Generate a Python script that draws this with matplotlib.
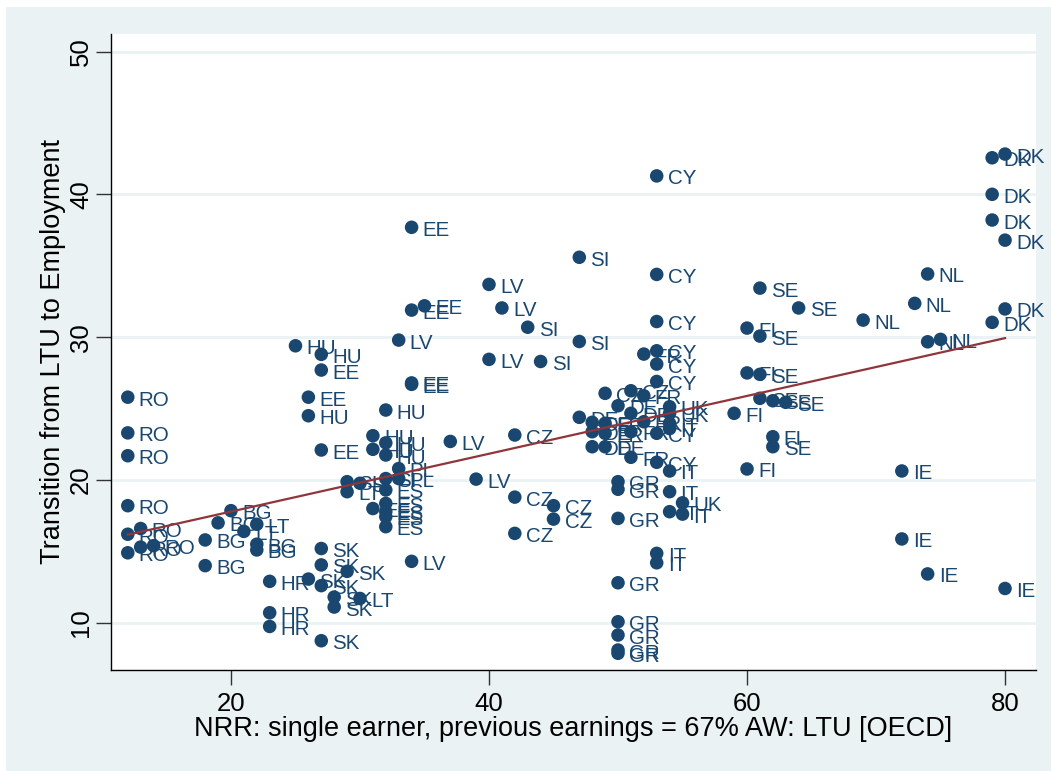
import numpy as np
import matplotlib
matplotlib.use("Agg")
import matplotlib.pyplot as plt
from matplotlib.patches import Rectangle

# ---- data ----
country = [
    "RO","RO","RO","RO","RO","RO","RO","RO","RO",
    "BG","BG","BG","BG","BG","BG","LT","LT",
    "HR","HR","HR",
    "SK","SK","SK","SK","SK","SK","SK","SK","LT",
    "HU","HU","EE","EE","EE","EE","EE","EE","HU","LV","LV","LV","SI","LV","SI","SI","SI",
    "CY","CY","CY","LV","CZ","LV","CZ","CZ","CZ","CZ","LV",
    "EE","HU","EE",
    "HU","HU","HU","HU","PL","PL","SI","LT","SI","SI","ES","ES","EE","ES","ES","ES",
    "CY","CZ","CZ","FR","DE","DE","UK","UK","DE","DE","FR","DE","FR","FR","FR","CY","IT","IT",
    "DE","DE","FR","CY","IT","GR","GR","IT","UK","IT","IT","GR","IT","IT","GR","GR","GR","GR","GR",
    "FI","FI",
    "FR","CY","CY","FI","SE","SE","SE","SE","FI","SE","SE","SE","SE","FI",
    "NL","NL","NL","NL","NL",
    "DK","DK","DK","DK","DK","DK","DK",
    "IE","IE","IE","IE",
]
nrr = [
    12,12,12,12,12,12,13,13,14,
    20,19,18,18,22,22,21,22,
    23,23,23,
    27,27,26,27,29,28,28,27,30,
    25,27,27,34,34,35,34,34,32,33,40,41,43,40,44,47,47,
    53,53,53,37,42,39,42,45,45,42,34,
    26,26,27,
    31,31,32,32,33,33,29,29,30,32,32,32,31,32,32,32,
    53,49,51,52,50,51,54,54,47,48,49,48,49,51,52,53,54,54,
    48,49,51,53,54,50,50,54,55,54,55,50,53,53,50,50,50,50,50,
    60,59,
    52,53,53,60,61,61,62,63,62,62,61,61,64,60,
    74,73,69,74,75,
    79,80,79,79,80,80,79,
    72,72,74,80,
]
transition = [
    25.8,23.3,21.7,18.2,16.2,14.9,16.6,15.3,15.4,
    17.85,17.0,15.8,14.0,15.5,15.1,16.4,16.9,
    12.9,10.7,9.74,
    15.2,14.05,13.06,12.6,13.6,11.8,11.1,8.74,11.7,
    29.4,28.8,27.7,37.7,31.9,32.2,26.8,26.7,24.9,29.8,33.7,32.05,30.7,28.45,28.3,35.6,29.7,
    41.3,34.4,31.1,22.7,23.15,20.06,18.8,18.2,17.26,16.26,14.3,
    25.8,24.5,22.1,
    23.1,22.15,22.6,21.75,20.8,20.1,19.88,19.18,19.77,20.1,19.3,18.36,18.0,17.78,17.43,16.73,
    26.9,26.07,26.25,25.9,25.2,24.67,25.13,24.67,24.39,24.04,23.97,23.38,23.27,23.38,24.08,23.27,23.97,23.6,
    22.33,22.33,21.59,21.24,20.63,19.88,19.35,19.18,18.4,17.78,17.61,17.31,14.86,14.2,12.8,10.07,9.14,8.09,7.86,
    20.77,24.67,
    28.82,29.05,28.12,27.5,27.4,25.72,25.55,25.44,23.03,22.33,30.08,33.44,32.05,30.64,
    34.43,32.37,31.2,29.68,29.85,
    42.57,42.83,40.01,38.21,36.8,31.98,31.04,
    20.63,15.87,13.42,12.4,
]
x_ticks = [20, 40, 60, 80]
y_ticks = [10, 20, 30, 40, 50]
x_title = "NRR: single earner, previous earnings = 67% AW: LTU [OECD]"
y_title = "Transition from LTU to Employment"

# ---- style ----
navy = "#1a476f"
maroon = "#90353b"
bg = "#eaf2f3"
plt.rcParams["font.family"] = ["Liberation Sans", "DejaVu Sans"]

W, H, DPI = 1051, 771, 100
fig = plt.figure(figsize=(W / DPI, H / DPI), dpi=DPI, facecolor="white")
fig.patches.append(Rectangle((6 / W, 0), 1 - 6 / W, 1 - 7 / H, transform=fig.transFigure,
                             facecolor=bg, edgecolor="none", zorder=-10))

ax = fig.add_axes([111 / W, 1 - 670 / H, (1036 - 111) / W, (670 - 34) / H])
ax.set_facecolor("white")
ax.set_xlim(10.7, 82.4)
ax.set_ylim(6.69, 51.24)

for yt in y_ticks:
    ax.axhline(yt, color=bg, lw=2.0, zorder=0.5)

x = np.array(nrr, dtype=float)
y = np.array(transition, dtype=float)
ax.scatter(x, y, s=95, color=navy, edgecolors="none", zorder=2)
for c, xi, yi in zip(country, x, y):
    ax.annotate(c, (xi, yi), xytext=(11, -8.5), textcoords="offset pixels",
                ha="left", va="baseline", fontsize=14.8, color=navy, zorder=3)

# linear fit
b, a = np.polyfit(x, y, 1)
xf = np.array([x.min(), x.max()])
ax.plot(xf, a + b * xf, color=maroon, lw=1.6, zorder=4)

for s in ["top", "right"]:
    ax.spines[s].set_visible(False)
for s in ["left", "bottom"]:
    ax.spines[s].set_color("black")
    ax.spines[s].set_linewidth(1.0)

ax.set_xticks(x_ticks)
ax.set_yticks(y_ticks)
ax.set_xticklabels([str(t) for t in x_ticks])
ax.set_yticklabels([str(t) for t in y_ticks], rotation=90, va="center")
ax.tick_params(axis="both", direction="out", length=11, width=1.0, color="#333333",
               labelsize=18.5)
ax.tick_params(axis="x", pad=5)
ax.tick_params(axis="y", pad=2)
ax.set_xlabel(x_title, fontsize=19.5, labelpad=0)
ax.set_ylabel(y_title, fontsize=19.5, labelpad=2)

fig.savefig("out.png", dpi=DPI, facecolor="white")
